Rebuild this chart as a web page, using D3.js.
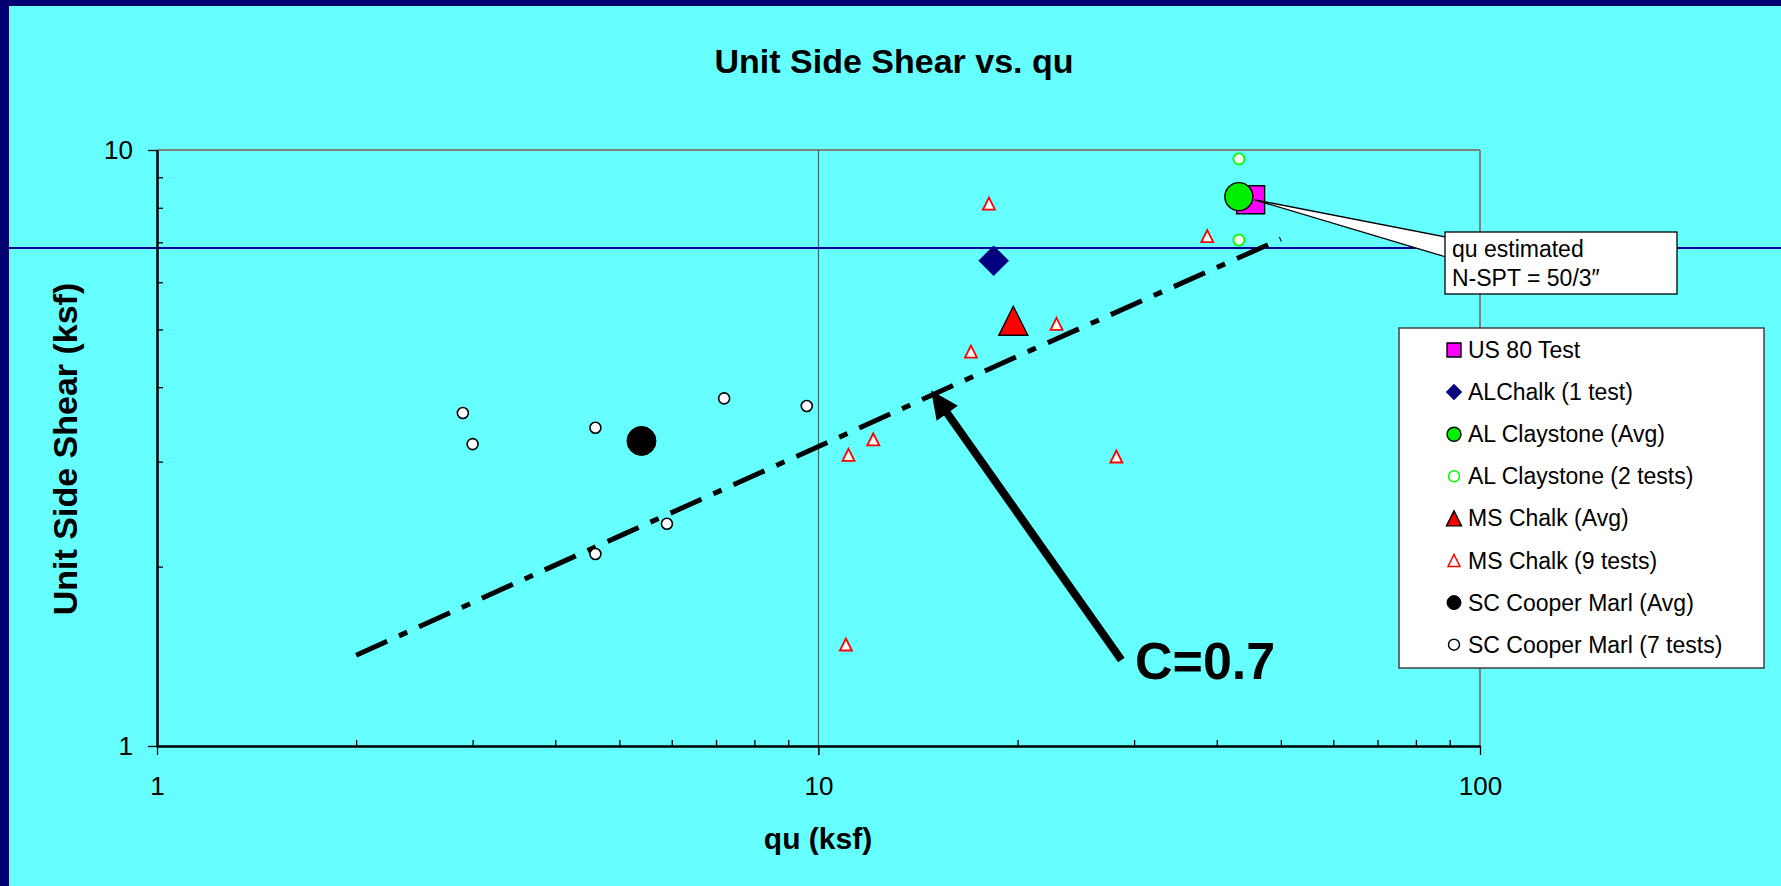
<!DOCTYPE html>
<html>
<head>
<meta charset="utf-8">
<script src="https://cdn.jsdelivr.net/npm/d3@7"></script>
<style>
body { margin: 0; background: #000066; }
svg { display: block; font-family: Arial, "Liberation Sans", sans-serif; }
</style>
</head>
<body>
<script>
// values (qu in ksf, unit side shear in ksf)
var seriesNames = ["US 80 Test", "ALChalk (1 test)", "AL Claystone (Avg)", "AL Claystone (2 tests)",
                   "MS Chalk (Avg)", "MS Chalk (9 tests)", "SC Cooper Marl (Avg)", "SC Cooper Marl (7 tests)"];

var us80Qu = [45.0];
var us80Fs = [8.25];
var alChalkQu = [18.4];
var alChalkFs = [6.52];
var alClayAvgQu = [43.2];
var alClayAvgFs = [8.35];
var alClayQu = [43.2, 43.2];
var alClayFs = [9.66, 7.06];
var msAvgQu = [19.7];
var msAvgFs = [5.17];
var msQu = [18.1, 38.7, 22.9, 17.0, 12.1, 11.1, 28.2, 11.0];
var msFs = [8.13, 7.17, 5.11, 4.59, 3.27, 3.08, 3.06, 1.48];
var scAvgQu = [5.4];
var scAvgFs = [3.25];
var scQu = [2.9, 3.0, 4.6, 4.6, 5.9, 7.2, 9.6];
var scFs = [3.62, 3.21, 3.42, 2.10, 2.36, 3.83, 3.72];

// C = 0.7 trend line
var trendQu = [2, 5, 10, 21, 50];
var trendFs = [1.42, 2.25, 3.18, 4.62, 7.09];

var xMajor = [1, 10, 100];
var xMinor = [2, 3, 4, 5, 6, 7, 8, 9, 20, 30, 40, 50, 60, 70, 80, 90];
var yMajor = [1, 10];
var yMinor = [2, 3, 4, 5, 6, 7, 8, 9];

// arrow annotation (tail, tip) in data units
var arrowQu = [28.7, 14.8];
var arrowFs = [1.394, 3.95];

var W = 1781, H = 886;

var svg = d3.select("body").append("svg")
    .attr("width", W)
    .attr("height", H);

svg.append("rect").attr("width", W).attr("height", H).attr("fill", "#000070");
svg.append("rect").attr("x", 9).attr("y", 6).attr("width", W - 9).attr("height", H - 6).attr("fill", "#66ffff");

var x = d3.scaleLog().domain([1, 100]).range([157, 1480]);
var y = d3.scaleLog().domain([1, 10]).range([746, 150]);

function zip(a, b) { return a.map(function(v, i) { return [v, b[i]]; }); }

// shapes centred on 0,0
function shape(type, s) {
    var h = s / 2;
    if (type == "square") return "M" + (-h) + "," + (-h) + "H" + h + "V" + h + "H" + (-h) + "Z";
    if (type == "diamond") return "M0," + (-h) + "L" + h + ",0L0," + h + "L" + (-h) + ",0Z";
    if (type == "triangle") return "M0," + (-h) + "L" + h + "," + h + "L" + (-h) + "," + h + "Z";
    return d3.arc()({innerRadius: 0, outerRadius: h, startAngle: 0, endAngle: 2 * Math.PI});
}

// frame
svg.append("line").attr("x1", 157).attr("x2", 1480).attr("y1", 150).attr("y2", 150)
    .attr("stroke", "#808080").attr("stroke-width", 2);
svg.append("line").attr("x1", 1480).attr("x2", 1480).attr("y1", 150).attr("y2", 746)
    .attr("stroke", "#808080").attr("stroke-width", 2);
svg.append("line").attr("x1", x(10)).attr("x2", x(10)).attr("y1", 150).attr("y2", 755)
    .attr("stroke", "#3d6b6b").attr("stroke-width", 1.2);

// slide rule line
svg.append("line").attr("x1", 9).attr("x2", W).attr("y1", 248).attr("y2", 248)
    .attr("stroke", "#0000a0").attr("stroke-width", 2);

// axes
var gx = svg.append("g").attr("transform", "translate(0,746)");
gx.call(d3.axisBottom(x).tickValues(xMinor).tickSizeInner(-6).tickSizeOuter(0).tickFormat(""));
var gx2 = svg.append("g").attr("transform", "translate(0,746)")
    .call(d3.axisBottom(x).tickValues(xMajor).tickSizeInner(9).tickSizeOuter(0).tickPadding(22).tickFormat(d3.format("d")));
var gy = svg.append("g").attr("transform", "translate(157,0)");
gy.call(d3.axisLeft(y).tickValues(yMinor).tickSizeInner(-6).tickSizeOuter(0).tickFormat(""));
var gy2 = svg.append("g").attr("transform", "translate(157,0)")
    .call(d3.axisLeft(y).tickValues(yMajor).tickSizeInner(9).tickSizeOuter(0).tickPadding(15).tickFormat(d3.format("d")));

svg.selectAll(".domain").attr("stroke", "#000").attr("stroke-width", 2);
svg.selectAll(".tick line").attr("stroke", "#000").attr("stroke-width", 1.3);
svg.selectAll(".tick text").attr("font-size", 26).attr("fill", "#000")
    .attr("font-family", "Arial, 'Liberation Sans', sans-serif");

// trend line
var line = d3.line().x(function(d) { return x(d[0]); }).y(function(d) { return y(d[1]); });
svg.append("path")
    .datum(zip(trendQu, trendFs))
    .attr("d", line)
    .attr("fill", "none")
    .attr("stroke", "#000")
    .attr("stroke-width", 5)
    .attr("stroke-dasharray", "34,13,9,13");

// series: name, data, shape, size, fill, stroke, stroke width, legend size
var series = [
    {d: zip(scQu, scFs), t: "circle", s: 11, f: "#fff", c: "#000", w: 1.6, ls: 11},
    {d: zip(scAvgQu, scAvgFs), t: "circle", s: 29, f: "#000", c: "#000", w: 1, ls: 14},
    {d: zip(msQu, msFs), t: "triangle", s: 12, f: "#fff", c: "#ff0000", w: 1.8, ls: 12},
    {d: zip(msAvgQu, msAvgFs), t: "triangle", s: 29, f: "#ff0000", c: "#000", w: 1.4, ls: 15},
    {d: zip(alChalkQu, alChalkFs), t: "diamond", s: 30, f: "#000080", c: "#000080", w: 0.5, ls: 16},
    {d: zip(us80Qu, us80Fs), t: "square", s: 28, f: "#ff00ff", c: "#000", w: 1.4, ls: 14},
    {d: zip(alClayAvgQu, alClayAvgFs), t: "circle", s: 28, f: "#00ee00", c: "#000", w: 1.4, ls: 14},
    {d: zip(alClayQu, alClayFs), t: "circle", s: 11, f: "#fff", c: "#00ff00", w: 1.8, ls: 11}
];
var legendOrder = [5, 4, 6, 7, 3, 2, 1, 0];

series.forEach(function(se) {
    svg.append("g").selectAll("path")
        .data(se.d)
        .enter()
        .append("path")
        .attr("transform", function(d) { return "translate(" + x(d[0]) + "," + y(d[1]) + ")"; })
        .attr("d", shape(se.t, se.s))
        .attr("fill", se.f)
        .attr("stroke", se.c)
        .attr("stroke-width", se.w);
});

// callout for the US 80 point
var px = x(us80Qu[0]) + 4, py = y(us80Fs[0]);
svg.append("path")
    .attr("d", "M" + px + "," + py + "L1446,237L1446,257Z")
    .attr("fill", "#fff").attr("stroke", "#000").attr("stroke-width", 1.3);
svg.append("rect").attr("x", 1445).attr("y", 232).attr("width", 232).attr("height", 62)
    .attr("fill", "#fff").attr("stroke", "#000").attr("stroke-width", 1.3);
svg.append("text").attr("x", 1452).attr("y", 257).attr("font-size", 23).text("qu estimated");
svg.append("text").attr("x", 1452).attr("y", 286).attr("font-size", 23).text("N-SPT = 50/3\u2033");

// arrow
var ax0 = x(arrowQu[0]), ay0 = y(arrowFs[0]), ax1 = x(arrowQu[1]), ay1 = y(arrowFs[1]);
var dx = ax1 - ax0, dy = ay1 - ay0, len = Math.sqrt(dx * dx + dy * dy);
var ux = dx / len, uy = dy / len;
var hl = 28, hw = 13;
var bx = ax1 - ux * hl, by = ay1 - uy * hl;
svg.append("line").attr("x1", ax0).attr("y1", ay0).attr("x2", bx + ux * 4).attr("y2", by + uy * 4)
    .attr("stroke", "#000").attr("stroke-width", 8);
svg.append("path")
    .attr("d", "M" + ax1 + "," + ay1 + "L" + (bx - uy * hw) + "," + (by + ux * hw) +
               "L" + (bx + uy * hw) + "," + (by - ux * hw) + "Z")
    .attr("fill", "#000");
svg.append("text").attr("x", 1135).attr("y", 679).attr("font-size", 52).attr("font-weight", "bold")
    .text("C=0.7");

// legend
var lg = svg.append("g");
lg.append("rect").attr("x", 1399).attr("y", 328).attr("width", 365).attr("height", 340)
    .attr("fill", "#fff").attr("stroke", "#404040").attr("stroke-width", 1.5);
legendOrder.forEach(function(si, i) {
    var se = series[si];
    var ly = 350 + i * 42.1;
    lg.append("path")
        .attr("transform", "translate(1454," + ly + ")")
        .attr("d", shape(se.t, se.ls))
        .attr("fill", se.f).attr("stroke", se.c).attr("stroke-width", Math.min(se.w, 1.5));
    lg.append("text").attr("x", 1468).attr("y", ly + 8).attr("font-size", 23).text(seriesNames[i]);
});

// titles
svg.append("text").attr("x", 894).attr("y", 73).attr("text-anchor", "middle")
    .attr("font-size", 34).attr("font-weight", "bold").text("Unit Side Shear vs. qu");
svg.append("text").attr("transform", "translate(77,449) rotate(-90)").attr("text-anchor", "middle")
    .attr("font-size", 34).attr("font-weight", "bold").text("Unit Side Shear (ksf)");
svg.append("text").attr("x", 818).attr("y", 849).attr("text-anchor", "middle")
    .attr("font-size", 30).attr("font-weight", "bold").text("qu (ksf)");
</script>
</body>
</html>
